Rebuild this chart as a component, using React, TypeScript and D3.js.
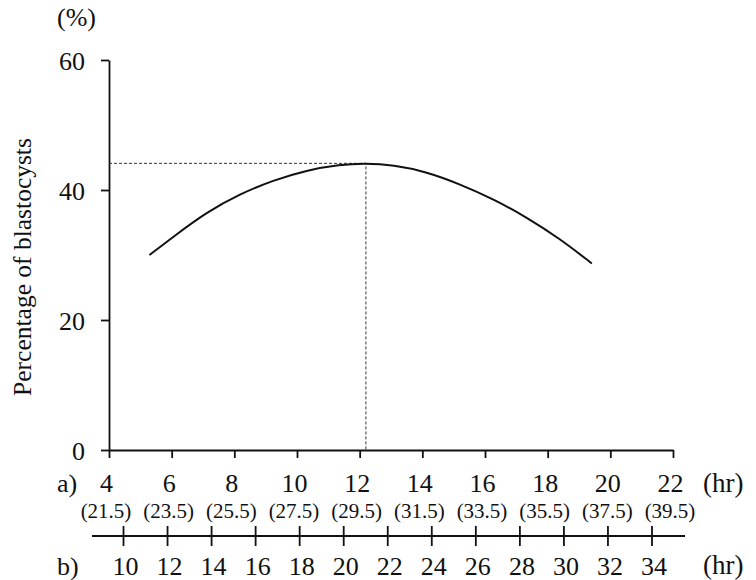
import React, { useEffect, useRef } from 'react';
import * as d3 from 'd3';

// a) hours after treatment, with the matching age in parentheses
const hoursA = [4, 6, 8, 10, 12, 14, 16, 18, 20, 22];
const hoursAParen = ['(21.5)', '(23.5)', '(25.5)', '(27.5)', '(29.5)', '(31.5)', '(33.5)', '(35.5)', '(37.5)', '(39.5)'];
// b) second time scale
const hoursB = [10, 12, 14, 16, 18, 20, 22, 24, 26, 28, 30, 32, 34];
const pctTicks = [0, 20, 40, 60];

// fitted curve (x in a) hours, y in %)
const curveHours = [5.29, 6.05, 7.12, 8.18, 9.24, 10.31, 11.37, 12.17, 13.07, 14.14, 15.2, 16.27, 17.33, 18.39, 19.41];
const curvePct = [30.0, 32.8, 36.6, 39.4, 41.5, 43.05, 43.9, 44.1, 43.85, 42.8, 40.9, 38.6, 35.8, 32.5, 28.7];
const peakHour = 12.2;
const peakPct = 44.1;

const FONT = "'Liberation Serif', 'DejaVu Serif', 'Times New Roman', Times, serif";
const INK = '#111';

export default function App() {
  const ref = useRef<SVGSVGElement>(null);

  useEffect(() => {
    document.body.style.margin = '0';
    const svg = d3.select(ref.current);
    svg.selectAll('*').remove();
    svg.style('font-family', FONT);

    const x = d3.scaleLinear().domain([4, 22]).range([109, 673]);
    const y = d3.scaleLinear().domain([0, 60]).range([450, 60]);
    const xb = d3.scaleLinear().domain([10, 34]).range([123.5, 652]);

    // y axis
    const yAxis = svg
      .append('g')
      .attr('transform', `translate(${x(4)},0)`)
      .call(d3.axisLeft(y).tickValues(pctTicks).tickSize(8).tickSizeOuter(0).tickPadding(16));
    yAxis.attr('font-family', null).attr('font-size', null);
    yAxis.selectAll('line, path').attr('stroke', INK).attr('stroke-width', 1.8);
    yAxis.selectAll('text').style('font-family', FONT).style('font-size', '26px').attr('fill', INK).attr('dy', '0.36em');

    // a) axis
    const xAxis = svg
      .append('g')
      .attr('transform', `translate(0,${y(0)})`)
      .call(d3.axisBottom(x).tickValues(hoursA).tickSize(8).tickSizeOuter(0).tickPadding(16));
    xAxis.attr('font-family', null).attr('font-size', null);
    xAxis.selectAll('line, path').attr('stroke', INK).attr('stroke-width', 1.8);
    xAxis.selectAll('text').style('font-family', FONT).style('font-size', '26px').attr('fill', INK).attr('dx', -3);

    // parenthetical values under a)
    svg
      .append('g')
      .selectAll('text')
      .data(hoursA)
      .enter()
      .append('text')
      .attr('x', (d) => x(d) - 3)
      .attr('y', 518)
      .attr('text-anchor', 'middle')
      .style('font-family', FONT)
      .style('font-size', '21px')
      .attr('fill', INK)
      .text((d, i) => hoursAParen[i]);

    // b) axis, ticks cross the line
    const bY = 536;
    svg
      .append('line')
      .attr('x1', xb(8.57))
      .attr('x2', xb(35.5))
      .attr('y1', bY)
      .attr('y2', bY)
      .attr('stroke', INK)
      .attr('stroke-width', 1.8);
    svg
      .append('g')
      .selectAll('line')
      .data(hoursB)
      .enter()
      .append('line')
      .attr('x1', (d) => xb(d))
      .attr('x2', (d) => xb(d))
      .attr('y1', bY - 10)
      .attr('y2', bY + 10)
      .attr('stroke', INK)
      .attr('stroke-width', 1.8);
    svg
      .append('g')
      .selectAll('text')
      .data(hoursB)
      .enter()
      .append('text')
      .attr('x', (d) => xb(d) + 2)
      .attr('y', 575)
      .attr('text-anchor', 'middle')
      .style('font-family', FONT)
      .style('font-size', '26px')
      .attr('fill', INK)
      .text((d) => d);

    // labels
    const label = (tx: number, ty: number, s: string, size = 26) =>
      svg
        .append('text')
        .attr('x', tx)
        .attr('y', ty)
        .style('font-family', FONT)
        .style('font-size', size + 'px')
        .attr('fill', INK)
        .text(s);
    label(57, 26, '(%)');
    label(57, 492, 'a)');
    label(57, 575, 'b)');
    label(703, 492, '(hr)', 27);
    label(703, 574, '(hr)', 27);

    svg
      .append('text')
      .attr('transform', 'translate(31,267) rotate(-90)')
      .attr('text-anchor', 'middle')
      .style('font-family', FONT)
      .style('font-size', '25.5px')
      .attr('fill', INK)
      .text('Percentage of blastocysts');

    // dashed guides to the peak
    svg
      .append('path')
      .attr('d', `M${x(4)},${y(peakPct)}H${x(peakHour)}V${y(0)}`)
      .attr('fill', 'none')
      .attr('stroke', '#333')
      .attr('stroke-width', 1)
      .attr('stroke-dasharray', '3,2');

    // curve
    const line = d3
      .line<number>()
      .x((d) => x(d))
      .y((d, i) => y(curvePct[i]))
      .curve(d3.curveBasis);
    svg
      .append('path')
      .attr('d', line(curveHours))
      .attr('fill', 'none')
      .attr('stroke', INK)
      .attr('stroke-width', 2);
  }, []);

  return <svg ref={ref} width={756} height={580} style={{ display: 'block' }} />;
}
